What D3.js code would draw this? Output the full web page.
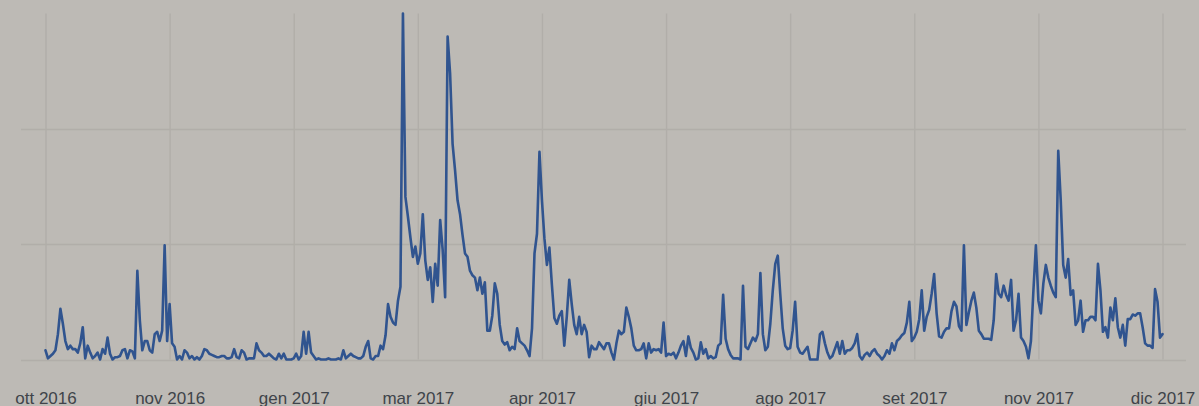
<!DOCTYPE html>
<html>
<head>
<meta charset="utf-8">
<script src="https://cdn.jsdelivr.net/npm/d3@7"></script>
<style>
  html, body { margin: 0; padding: 0; background: #bdbab5; }
  svg { display: block; }
  .tick text { font-family: "Liberation Sans", Arial, Helvetica, sans-serif; }
</style>
</head>
<body>
<div id="chart"></div>
<script>
// daily series starting 5 Oct 2016
const startDate = new Date(2016, 9, 5);

const values = [
  0.8, 0.1, 0.3, 0.5, 0.8, 2.2, 4.4, 3.1, 1.6, 0.9,
  1.2, 0.9, 0.9, 0.6, 1.4, 2.8, 0.1, 1.2, 0.6, 0.1,
  0.3, 0.6, 0, 0.9, 0.5, 1.9, 0.5, 0, 0.2, 0.2,
  0.3, 0.8, 0.9, 0.1, 0.8, 0.7, 0.1, 7.7, 3.4, 0.8,
  1.6, 1.6, 0.8, 0.6, 2.2, 2.4, 1.6, 2.5, 9.9, 1.6,
  4.8, 1.4, 1.1, 0, 0.3, 0, 0.8, 0.6, 0.1, 0.3,
  0, 0.2, 0, 0.3, 0.9, 0.8, 0.5, 0.4, 0.3, 0.2,
  0.2, 0.3, 0.3, 0.1, 0.1, 0.2, 0.9, 0.2, 0.1, 0.8,
  0.6, 0, 0.1, 0.1, 0.1, 1.4, 0.8, 0.6, 0.3, 0.3,
  0.5, 0.3, 0.1, 0, 0.5, 0.1, 0.5, 0, 0, 0,
  0.1, 0.5, 0, 0.3, 2.4, 0.5, 2.4, 0.6, 0.3, 0,
  0.1, 0, 0, 0, 0.1, 0, 0, 0, 0.1, 0,
  0.8, 0.1, 0.3, 0.5, 0.3, 0.2, 0.1, 0.1, 0.3, 1.1,
  1.6, 0.1, 0, 0.3, 0.3, 1.2, 0.9, 2.1, 4.8, 3.7,
  3.2, 3.0, 5.1, 6.3, 30, 14.1, 12.4, 10.6, 8.9, 9.8,
  8.3, 9.2, 12.6, 8.6, 6.9, 8.0, 5.0, 8.3, 6.4, 12.1,
  9.5, 5.4, 28.0, 24.8, 18.7, 16.4, 13.8, 12.6, 10.8, 9.2,
  8.9, 7.7, 7.3, 7.1, 6.0, 7.1, 5.7, 6.7, 2.5, 2.5,
  3.8, 6.6, 5.7, 3.0, 1.6, 1.3, 1.5, 0.8, 1.1, 0.9,
  2.7, 1.6, 1.4, 1.2, 0.8, 0.3, 2.7, 9.2, 10.9, 18.0,
  13.8, 10.5, 8.2, 9.7, 6.5, 3.6, 3.1, 3.8, 4.2, 1.2,
  3.7, 6.9, 4.8, 3.0, 2.2, 3.7, 2.2, 3.0, 2.4, 0.2,
  1.2, 0.9, 0.9, 1.5, 1.2, 0.9, 1.4, 1.4, 0.6, 0,
  1.4, 2.5, 2.2, 2.4, 4.5, 3.7, 2.7, 1.2, 0.8, 0.8,
  0.9, 1.4, 0.1, 1.4, 0.6, 0.9, 0.8, 0.9, 0.6, 3.2,
  0.3, 0.5, 0.4, 0.6, 0.1, 0.6, 1.2, 1.6, 0.3, 2.0,
  1.0, 0.6, 0, 0.1, 1.5, 0.5, 0.9, 0.1, 0.3, 0.1,
  0.2, 1.2, 1.4, 5.6, 1.8, 0.9, 0.4, 0.1, 0.1, 0.1,
  0, 6.4, 1.1, 0.9, 1.4, 1.9, 1.6, 2.2, 7.5, 2.2,
  0.8, 1.1, 3.1, 6.0, 8.3, 9.0, 5.7, 2.7, 1.2, 0.9,
  1.0, 2.5, 5.0, 1.1, 0.6, 0.5, 0.8, 1.1, 0, 0,
  0, 0, 2.2, 2.4, 1.4, 0.6, 0.1, 0.3, 0.9, 1.5,
  0.5, 1.6, 0.5, 0.8, 0.8, 1.0, 1.4, 2.2, 0.3, 0,
  0.4, 0.6, 0.3, 0.7, 0.9, 0.5, 0.3, 0, 0.3, 0.8,
  0.5, 1.4, 0.8, 1.6, 1.8, 2.1, 2.3, 3.2, 5.0, 1.6,
  1.9, 2.4, 3.5, 6.0, 2.5, 3.7, 4.3, 5.7, 7.4, 4.0,
  2.0, 1.9, 2.4, 2.7, 2.7, 4.2, 5.0, 4.6, 2.9, 2.5,
  9.9, 3.0, 4.1, 5.1, 5.8, 4.5, 2.5, 2.2, 1.8, 1.8,
  1.8, 1.7, 3.4, 7.4, 5.7, 5.4, 6.4, 5.6, 5.1, 6.9,
  2.5, 3.4, 5.7, 1.9, 1.6, 1.1, 0.1, 1.6, 6.0, 9.9,
  5.1, 4.0, 6.6, 8.2, 7.1, 6.4, 5.8, 5.4, 18.1, 13.8,
  8.2, 7.1, 8.7, 5.6, 6.0, 3.0, 3.4, 5.1, 2.4, 3.4,
  3.4, 3.7, 3.7, 3.4, 8.3, 6.0, 2.4, 2.8, 1.9, 4.5,
  3.4, 5.3, 2.8, 1.9, 3.0, 1.2, 3.5, 3.5, 3.9, 3.8,
  4.0, 4.0, 2.8, 1.4, 1.2, 1.2, 1.0, 6.1, 5.0, 1.9,
  2.2
];

// ticks every 50 days from the first day
const tickDays = [0, 50, 100, 150, 200, 250, 300, 350, 400, 450];
const tickLabels = ["ott 2016", "nov 2016", "gen 2017", "mar 2017", "apr 2017",
                    "giu 2017", "ago 2017", "set 2017", "nov 2017", "dic 2017"];
const yGrid = [0, 10, 20];
const yMax = 30;

const w = 1199;
const h = 406;

const data = values.map((v, i) => ({ date: d3.timeDay.offset(startDate, i), value: v }));

const x = d3.scaleTime()
    .domain(d3.extent(data, d => d.date))
    .range([45.5, 1162.5]);

const y = d3.scaleLinear()
    .domain([0, yMax])
    .range([359.5, 13.5]);

const svg = d3.select("#chart")
    .append("svg")
    .attr("width", w)
    .attr("height", h);

svg.append("rect")
    .attr("width", w)
    .attr("height", h)
    .attr("fill", "#bdbab5");

// horizontal grid
svg.append("g")
    .selectAll("line")
    .data(yGrid)
    .enter()
    .append("line")
    .attr("x1", 21)
    .attr("x2", 1186)
    .attr("y1", d => Math.round(y(d)) + 0.5)
    .attr("y2", d => Math.round(y(d)) + 0.5)
    .attr("stroke", "#b1aea9")
    .attr("stroke-width", 1.4);

// x axis with vertical grid lines
const tickDates = tickDays.map(d => d3.timeDay.offset(startDate, d));

const xAxis = d3.axisBottom(x)
    .tickValues(tickDates)
    .tickSize(y(yMax) - y(0))
    .tickPadding(0)
    .tickFormat((d, i) => tickLabels[i]);

const gx = svg.append("g")
    .attr("transform", "translate(0," + y(0) + ")")
    .call(xAxis);

gx.select(".domain").remove();
gx.selectAll(".tick line")
    .attr("stroke", "#b1aea9")
    .attr("stroke-width", 1.4);
gx.selectAll(".tick text")
    .attr("y", 44)
    .attr("dy", 0)
    .attr("fill", "#40444a")
    .style("font-size", "17px");

// the series
const line = d3.line()
    .x(d => x(d.date))
    .y(d => y(d.value));

svg.append("path")
    .datum(data)
    .attr("d", line)
    .attr("fill", "none")
    .attr("stroke", "#30548f")
    .attr("stroke-width", 2.6)
    .attr("stroke-linejoin", "round")
    .attr("stroke-linecap", "round");
</script>
</body>
</html>
